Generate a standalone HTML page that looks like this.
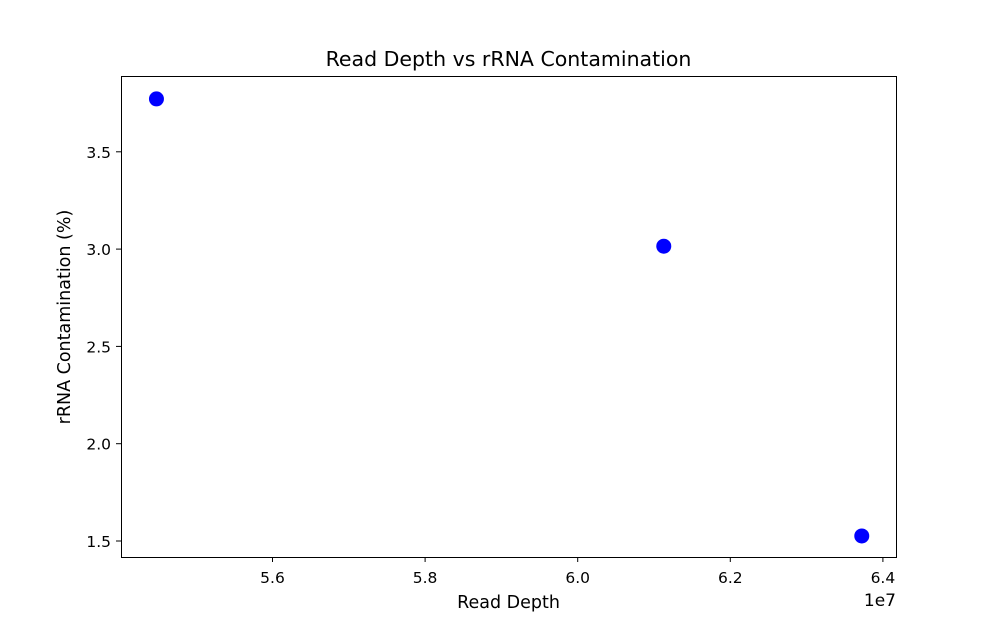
<!DOCTYPE html>
<html><head><meta charset="utf-8"><style>
body{margin:0;background:#fff;}
svg{display:block;font-family:"DejaVu Sans","Liberation Sans",sans-serif;}
</style></head><body>
<svg id="chart" width="994" height="622">
<rect x="0" y="0" width="994" height="622" fill="#fff"/>
<text x="508.5" y="66" text-anchor="middle" font-size="20.5">Read Depth vs rRNA Contamination</text>
<g id="xticks"></g>
<g id="yticks"></g>
<g id="points"></g>
<rect x="121.5" y="76.5" width="775" height="481" fill="none" stroke="#000" stroke-width="1"/>
<text x="508.5" y="608" text-anchor="middle" font-size="17.5">Read Depth</text>
<text x="896" y="606" text-anchor="end" font-size="17">1e7</text>
<text transform="translate(70,317) rotate(-90)" text-anchor="middle" font-size="17.5">rRNA Contamination (%)</text>
</svg>
<script>
const readDepth = [5.4466, 6.1115, 6.371];
const contamination = [3.777, 3.02, 1.531];
const xTickValues = [5.6, 5.8, 6.0, 6.2, 6.4];
const xTickLabels = ["5.6", "5.8", "6.0", "6.2", "6.4"];
const yTickValues = [1.5, 2.0, 2.5, 3.0, 3.5];
const yTickLabels = ["1.5", "2.0", "2.5", "3.0", "3.5"];

const NS = "http://www.w3.org/2000/svg";
function xs(v){ return 273.5 + (v - 5.6) / 0.2 * 152.6; }
function ys(v){ return 542 - (v - 1.5) / 0.5 * 97.3; }
function mk(tag, attrs, parent){
  const e = document.createElementNS(NS, tag);
  for (const k in attrs) e.setAttribute(k, attrs[k]);
  parent.appendChild(e); return e;
}
const xg = document.getElementById('xticks');
xTickValues.forEach((v, i) => {
  const x = xs(v) - 1;
  const t = mk('line', {x1:x, x2:x, y1:557, y2:562, stroke:'#000'}, xg);
  
  
  const l = mk('text', {x:x, y:583, 'text-anchor':'middle', 'font-size':15.5}, xg);
  l.textContent = xTickLabels[i];
  
  
});
const yg = document.getElementById('yticks');
yTickValues.forEach((v, i) => {
  const y = ys(v) - 1;
  const t = mk('line', {x1:116, x2:121, y1:y, y2:y, stroke:'#000'}, yg);
  
  
  const l = mk('text', {x:111, y:y + 6, 'text-anchor':'end', 'font-size':15.5}, yg);
  l.textContent = yTickLabels[i];
  
  
});
const pg = document.getElementById('points');
readDepth.forEach((v, i) => {
  const c = mk('circle', {cx:xs(v), cy:ys(contamination[i]), r:7.5, fill:'#0000ff'}, pg);
  
  
});
</script>
</body></html>
